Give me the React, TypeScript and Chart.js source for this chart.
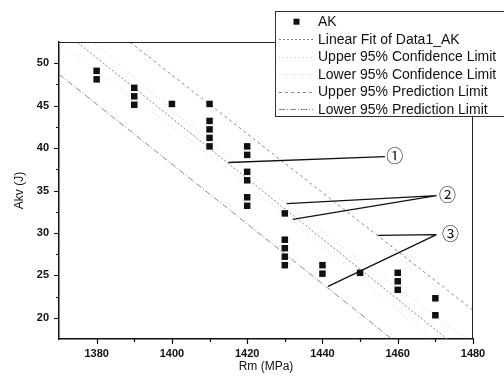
import React, { useEffect, useRef } from "react";
import { Chart, registerables } from "chart.js";

Chart.register(...registerables);

// ---- data ----
const rmValues = [1380, 1380, 1390, 1390, 1390, 1400, 1410, 1410, 1410, 1410, 1410, 1420, 1420, 1420, 1420, 1420, 1420, 1430, 1430, 1430, 1430, 1430, 1440, 1440, 1450, 1460, 1460, 1460, 1470, 1470];
const akvValues = [49.1, 48.1, 47.1, 46.1, 45.1, 45.2, 45.2, 43.2, 42.2, 41.2, 40.2, 40.2, 39.2, 37.2, 36.2, 34.2, 33.2, 32.3, 29.2, 28.2, 27.2, 26.2, 26.2, 25.2, 25.3, 25.3, 24.3, 23.3, 22.3, 20.3];

const lineRm = [1370, 1480];
const fitAkv = [54.2, 15.05];
const upperPredAkv = [59.0, 20.9];
const lowerPredAkv = [48.7, 9.9];

const confRm = [1370, 1400, 1420, 1440, 1460, 1480];
const upperConfAkv = [56.0, 44.5, 37.1, 30.1, 23.5, 16.95];
const lowerConfAkv = [52.4, 42.5, 35.7, 28.5, 20.9, 13.15];

const xTickValues = [1380, 1400, 1420, 1440, 1460, 1480];
const xMinorValues = [1390, 1410, 1430, 1450, 1470];
const yTickValues = [20, 25, 30, 35, 40, 45, 50];
const yMinorValues = [22.5, 27.5, 32.5, 37.5, 42.5, 47.5];

const legendLabels = [
  "AK",
  "Linear Fit of Data1_AK",
  "Upper 95% Confidence Limit",
  "Lower 95% Confidence Limit",
  "Upper 95% Prediction Limit",
  "Lower 95% Prediction Limit",
];

// annotations (data units)
const markLabels = ["①", "②", "③"];
const markRm = [1459.2, 1473.2, 1474.0];
const markAkv = [39.2, 34.6, 30.0];
const leaderFromRm = [1415.0, 1430.5, 1432.1, 1454.8, 1441.5];
const leaderFromAkv = [38.3, 33.45, 31.6, 29.7, 23.7];
const leaderToRm = [1456.6, 1470.3, 1470.3, 1470.3, 1470.3];
const leaderToAkv = [39.0, 34.4, 34.4, 29.8, 29.8];

const FONT = "'Liberation Sans', Arial, sans-serif";

const pts = (xs: number[], ys: number[]) => xs.map((x, i) => ({ x, y: ys[i] }));

const lineStyles = [
  { color: "#8a8a8a", dash: [2, 2] },
  { color: "#c8c8c8", dash: [1, 3] },
  { color: "#d2d2d2", dash: [1, 3] },
  { color: "#8a8a8a", dash: [3, 3] },
  { color: "#8a8a8a", dash: [6, 2, 1, 2] },
];

const overlayPlugin = {
  id: "overlay",
  afterDatasetsDraw(chart: any) {
    const { ctx, chartArea: a, scales } = chart;
    const xs = scales.x;
    const ys = scales.y;
    ctx.save();
    // frame top & right
    ctx.strokeStyle = "#222";
    ctx.lineWidth = 1;
    ctx.beginPath();
    ctx.moveTo(a.left, a.top + 0.5);
    ctx.lineTo(a.right, a.top + 0.5);
    ctx.moveTo(a.right - 0.5, a.top);
    ctx.lineTo(a.right - 0.5, a.bottom);
    ctx.stroke();

    // ticks
    ctx.strokeStyle = "#111";
    ctx.lineWidth = 1.2;
    ctx.beginPath();
    xTickValues.forEach((v) => {
      const px = Math.round(xs.getPixelForValue(v)) + 0.5;
      ctx.moveTo(px, a.bottom);
      ctx.lineTo(px, a.bottom + 5);
    });
    xMinorValues.forEach((v) => {
      const px = Math.round(xs.getPixelForValue(v)) + 0.5;
      ctx.moveTo(px, a.bottom);
      ctx.lineTo(px, a.bottom + 3);
    });
    yTickValues.forEach((v) => {
      const py = Math.round(ys.getPixelForValue(v)) + 0.5;
      ctx.moveTo(a.left, py);
      ctx.lineTo(a.left - 5, py);
    });
    yMinorValues.forEach((v) => {
      const py = Math.round(ys.getPixelForValue(v)) + 0.5;
      ctx.moveTo(a.left, py);
      ctx.lineTo(a.left - 3, py);
    });
    ctx.stroke();

    // annotation leaders
    ctx.strokeStyle = "#111";
    ctx.lineWidth = 1.3;
    ctx.beginPath();
    leaderFromRm.forEach((r, i) => {
      ctx.moveTo(xs.getPixelForValue(r), ys.getPixelForValue(leaderFromAkv[i]));
      ctx.lineTo(xs.getPixelForValue(leaderToRm[i]), ys.getPixelForValue(leaderToAkv[i]));
    });
    ctx.stroke();
    ctx.fillStyle = "#111";
    ctx.font = "17px 'Noto Sans CJK SC', 'DejaVu Sans', sans-serif";
    ctx.textAlign = "center";
    ctx.textBaseline = "middle";
    markLabels.forEach((t, i) => {
      ctx.fillText(t, xs.getPixelForValue(markRm[i]), ys.getPixelForValue(markAkv[i]) + 1);
    });

    // legend box
    const lx = 275.5;
    const ly = 11.5;
    const lh = 105;
    ctx.fillStyle = "#fff";
    ctx.fillRect(lx, ly, 260, lh);
    ctx.strokeStyle = "#333";
    ctx.lineWidth = 1;
    ctx.strokeRect(lx, ly, 260, lh);
    ctx.font = "14px " + FONT;
    ctx.textAlign = "left";
    ctx.textBaseline = "middle";
    legendLabels.forEach((t, i) => {
      const cy = 21.7 + i * 17.5;
      if (i === 0) {
        ctx.fillStyle = "#111";
        ctx.fillRect(293.5, cy - 3, 6, 6);
      } else {
        const st = lineStyles[i - 1];
        ctx.strokeStyle = st.color;
        ctx.lineWidth = 1;
        ctx.setLineDash(st.dash);
        ctx.beginPath();
        ctx.moveTo(279, Math.round(cy) + 0.5);
        ctx.lineTo(313, Math.round(cy) + 0.5);
        ctx.stroke();
        ctx.setLineDash([]);
      }
      ctx.fillStyle = "#111";
      ctx.fillText(t, 318, cy + 0.5);
    });
    ctx.restore();
  },
};

export default function App() {
  const ref = useRef<HTMLCanvasElement | null>(null);
  useEffect(() => {
    document.body.style.margin = "0";
    if (!ref.current) return;
    const lineDs = (data: any[], i: number) => ({
      type: "scatter" as const,
      data,
      showLine: true,
      borderColor: lineStyles[i].color,
      borderDash: lineStyles[i].dash,
      borderWidth: 1,
      pointRadius: 0,
      fill: false,
      label: legendLabels[i + 1],
    });
    const chart = new Chart(ref.current, {
      type: "scatter",
      data: {
        datasets: [
          {
            label: legendLabels[0],
            data: pts(rmValues, akvValues),
            pointStyle: "rect",
            pointRadius: 4.6,
            backgroundColor: "#111",
            borderWidth: 0,
          },
          lineDs(pts(lineRm, fitAkv), 0),
          lineDs(pts(confRm, upperConfAkv), 1),
          lineDs(pts(confRm, lowerConfAkv), 2),
          lineDs(pts(lineRm, upperPredAkv), 3),
          lineDs(pts(lineRm, lowerPredAkv), 4),
        ] as any,
      },
      options: {
        responsive: false,
        animation: false,
        devicePixelRatio: 1,
        layout: { padding: { top: 42, right: 31, left: 0, bottom: 0 } },
        plugins: { legend: { display: false }, tooltip: { enabled: false } },
        scales: {
          x: {
            type: "linear",
            min: 1370,
            max: 1480,
            afterBuildTicks: (s: any) => {
              s.ticks = xTickValues.map((v) => ({ value: v }));
            },
            afterFit: (s: any) => {
              s.height = 43;
            },
            grid: { display: false },
            border: { display: true, color: "#111", width: 1.5 },
            ticks: {
              color: "#111",
              font: { family: FONT, size: 11, weight: "bold" },
              padding: 0,
              maxRotation: 0,
              autoSkip: false,
              callback: (v: any) => String(v),
            },
            title: {
              display: true,
              text: "Rm (MPa)",
              color: "#111",
              font: { family: FONT, size: 12 },
              padding: { top: 0, bottom: 8 },
            },
          },
          y: {
            type: "linear",
            min: 17.5,
            max: 52.5,
            afterBuildTicks: (s: any) => {
              s.ticks = yTickValues.map((v) => ({ value: v }));
            },
            afterFit: (s: any) => {
              s.width = 59;
            },
            grid: { display: false },
            border: { display: true, color: "#111", width: 1.5 },
            ticks: {
              color: "#111",
              font: { family: FONT, size: 11, weight: "bold" },
              padding: 2,
              autoSkip: false,
              callback: (v: any) => String(v),
            },
            title: {
              display: true,
              text: "Akv (J)",
              color: "#111",
              font: { family: FONT, size: 12 },
              padding: { top: 12, bottom: 0 },
            },
          },
        },
      },
      plugins: [overlayPlugin],
    });
    return () => chart.destroy();
  }, []);
  return <canvas ref={ref} width={504} height={382} style={{ display: "block" }} />;
}
